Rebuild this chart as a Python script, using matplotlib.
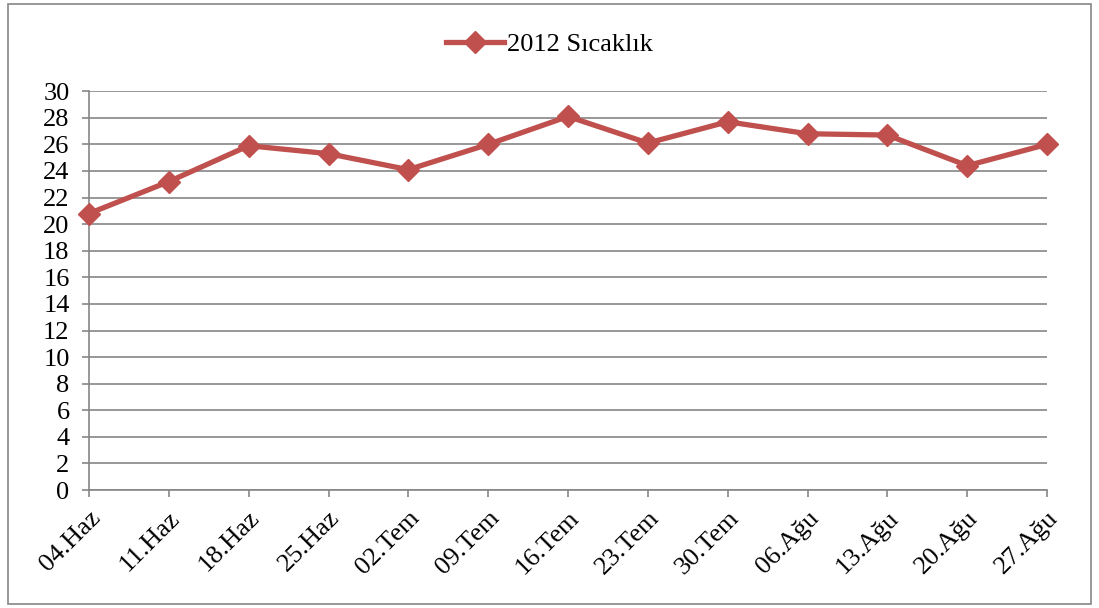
import matplotlib.pyplot as plt
from matplotlib.patches import Rectangle

dates = ["04.Haz", "11.Haz", "18.Haz", "25.Haz", "02.Tem", "09.Tem", "16.Tem",
         "23.Tem", "30.Tem", "06.Ağu", "13.Ağu", "20.Ağu", "27.Ağu"]
temps = [20.8, 23.2, 25.9, 25.3, 24.1, 26.0, 28.1, 26.1, 27.7, 26.8, 26.7, 24.4, 26.0]
yticks = list(range(0, 31, 2))

plt.rcParams['font.family'] = ['Liberation Serif', 'DejaVu Serif']

fig = plt.figure(figsize=(10.99, 6.08), dpi=100)
ax = fig.add_axes([0.081, 0.194, 0.8717, 0.656])

grid_col = "#868686"
line_col = "#C0504D"

x = list(range(len(dates)))
ax.plot(x, temps, color=line_col, lw=3.8, marker="D", markersize=11,
        label="2012 Sıcaklık", zorder=3, clip_on=False)

ax.set_xlim(0, len(dates) - 1)
ax.set_ylim(0, 30)
ax.set_yticks(yticks)
ax.set_xticks(x)
ax.set_xticklabels(dates, rotation=45, ha="right", va="top", rotation_mode="anchor")
ax.tick_params(axis="both", labelsize=19, color=grid_col, width=1.2, length=5,
               direction="out")
ax.tick_params(axis="y", pad=9)
ax.tick_params(axis="x", pad=7)
ax.grid(axis="y", color=grid_col, lw=1.2)
ax.set_axisbelow(True)

for s in ["top", "right"]:
    ax.spines[s].set_visible(False)
for s in ["left", "bottom"]:
    ax.spines[s].set_color(grid_col)
    ax.spines[s].set_linewidth(1.2)

fig.legend(loc="upper center", bbox_to_anchor=(0.5, 0.985), frameon=False,
           fontsize=19, handlelength=2.2, handletextpad=0.1)

fig.patches.append(Rectangle((0.007, 0.006), 0.986, 0.988, transform=fig.transFigure,
                             fill=False, edgecolor=grid_col, lw=1.2))

fig.savefig("out.png", dpi=100)
